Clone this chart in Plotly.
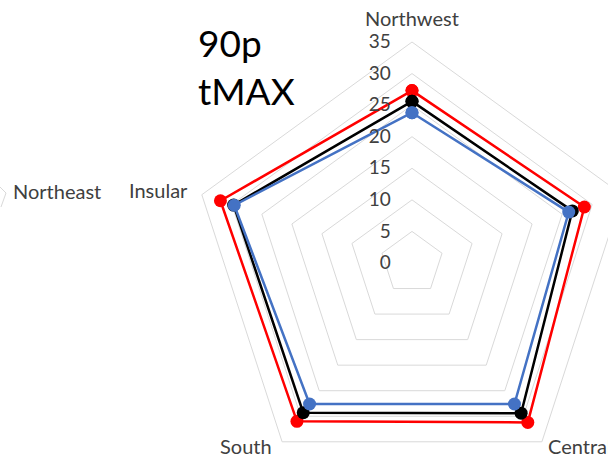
import plotly.graph_objects as go

categories = ["Northwest", "Northeast", "Central", "South", "Insular"]
red_values = [27.3, 28.7, 31.2, 31.0, 31.9]
black_values = [25.6, 26.7, 29.4, 29.3, 29.7]
blue_values = [23.8, 26.1, 27.6, 27.6, 29.6]
radial_ticks = [0, 5, 10, 15, 20, 25, 30, 35]

series = [
    ("Series 1", red_values, "#ff0000"),
    ("Series 2", black_values, "#000000"),
    ("Series 3", blue_values, "#4472c4"),
]

W, H = 640, 490
cx, cy, R = 412, 263, 221
FONT = "Lato"
TXT = "#404040"

fig = go.Figure()
for name, vals, color in series:
    fig.add_trace(go.Scatterpolar(
        r=vals + vals[:1],
        theta=categories + categories[:1],
        mode="lines+markers",
        line=dict(color=color, width=2.5),
        marker=dict(color=color, size=13),
        name=name,
        showlegend=False,
        cliponaxis=False,
    ))

# category label placement (pixel anchor, xanchor) for visible vertices
label_pos = {
    "Northwest": (412, 18, "center"),
    "Central": (546, 446, "left"),
    "South": (274, 446, "right"),
    "Insular": (190, 190, "right"),
}

annotations = [
    dict(text="90p<br>tMAX", xref="paper", yref="paper", x=196 / W, y=1 - 18 / H,
         xanchor="left", yanchor="top", align="left", showarrow=False,
         font=dict(family=FONT, size=37, color="#000000")),
    dict(text="Northeast", xref="paper", yref="paper", x=11 / W, y=1 - 191 / H,
         xanchor="left", yanchor="middle", showarrow=False,
         font=dict(family=FONT, size=20, color=TXT)),
]
for cat in categories:
    if cat in label_pos:
        px, py, xa = label_pos[cat]
        annotations.append(dict(
            text=cat, xref="paper", yref="paper", x=px / W, y=1 - py / H,
            xanchor=xa, yanchor="middle", showarrow=False,
            font=dict(family=FONT, size=20, color=TXT)))

fig.update_layout(
    width=W, height=H,
    margin=dict(l=0, r=0, t=0, b=0),
    paper_bgcolor="white",
    showlegend=False,
    font=dict(family=FONT, color=TXT),
    polar=dict(
        domain=dict(x=[(cx - R) / W, (cx + R) / W], y=[1 - (cy + R) / H, 1 - (cy - R) / H]),
        gridshape="linear",
        bgcolor="white",
        radialaxis=dict(
            range=[0, 35], tickvals=radial_ticks, angle=90, side="counterclockwise",
            tickangle=90,
            showline=False, ticks="outside", ticklen=14, tickcolor="rgba(0,0,0,0)",
            gridcolor="#d9d9d9", gridwidth=1,
            tickfont=dict(family=FONT, size=19, color=TXT),
        ),
        angularaxis=dict(
            rotation=90, direction="clockwise", showgrid=False,
            showline=True, linecolor="#d9d9d9", linewidth=1,
            showticklabels=False, ticks="",
        ),
    ),
    annotations=annotations,
    shapes=[
        dict(type="path", xref="paper", yref="paper",
             path=f"M 0,{1-187/H} L {6/W},{1-193/H} L {1/W},{1-207/H}",
             line=dict(color="#d9d9d9", width=1)),
    ],
)

fig.write_html("out.html", post_script="document.body.style.overflow='hidden';")
